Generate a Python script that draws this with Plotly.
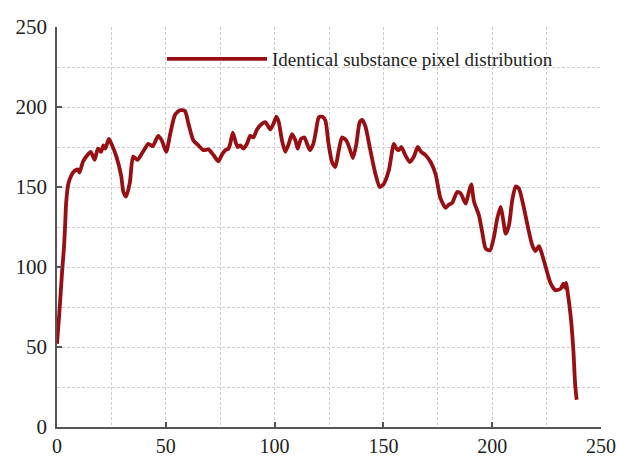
import plotly.graph_objects as go

# pixel position index (x) and pixel value (y)
x_vals = [0, 1, 2, 2.5, 3.2, 3.7, 4.2, 5.2, 6.5, 8, 9.5, 10.3, 12, 14, 15.5, 17.3, 18.8, 20.2,
          21.3, 22.2, 23.8, 25, 27.3, 29.5, 30.5, 31.8, 33.5, 35, 37, 39.5, 42, 44, 46.5, 48.2,
          50.2, 52, 54.2, 56.5, 58.8, 60.4, 62.7, 65, 67.3, 69.6, 71.9, 74.2, 75.7, 77.3, 78.8,
          79.6, 80.8, 81.9, 83, 84.2, 85.7, 87.3, 88.8, 90.3, 91.9, 94.2, 95.7, 96.8, 98, 99.5,
          100.8, 101.9, 103.4, 104.9, 106.5, 108, 109.6, 110.6, 112.1, 113.7, 114.9, 116.2,
          117.8, 119, 120.3, 121.8, 123.3, 124.8, 126.4, 127.9, 129.5, 131, 133, 134.5, 136,
          137.6, 139.1, 140.2, 141.7, 144, 146.3, 148.3, 150.2, 152.5, 154.8, 156, 157.1, 158.2,
          160.1, 162.1, 163.9, 165.8, 167.3, 169.3, 171.7, 174, 176.2, 178.6, 180.1, 181.6,
          183.9, 185.5, 187.8, 189.3, 190.4, 191.6, 193.9, 195.4, 197, 199, 200.8, 202.3, 203.9,
          205, 206.2, 207.7, 209.2, 210.8, 212.3, 214.3, 216.4, 218.4, 219.9, 221.5, 223, 225,
          226.9, 229.2, 231.5, 232.7, 233.5, 234, 234.6, 236.1, 237.3, 238.1, 238.8]
y_vals = [52, 70, 90, 100, 112, 125, 140, 152, 157, 160, 161, 159, 166, 170, 172, 167, 174, 172,
          176, 174, 180, 177, 169, 157, 147, 144, 153, 169, 167, 172, 177, 175.5, 182, 179,
          172, 183, 195, 198, 197.5, 189.6, 179, 176, 173, 173.5, 170, 166, 170, 173, 174,
          177, 184, 179, 175, 176, 174, 177, 182, 181, 186, 189.6, 190.6, 188.5, 186, 189.6,
          194, 190.6, 179, 172, 177, 183, 179, 174, 180, 181, 177, 173,
          177, 185, 193.5, 194, 191.7, 177, 165.6, 162.5, 173, 181, 179, 174, 168,
          177, 190.6, 192, 188, 173, 158.4, 150, 152, 160.4, 177, 174, 173, 175,
          169.8, 165.6, 168.7, 175, 172, 170, 165.6, 158, 143, 137, 139, 140,
          146.9, 146, 139.6, 147, 151.7, 141, 132.3, 121.9, 111.5, 110.4, 118.8, 130.2, 137.5,
          130, 120.8, 126, 141.7, 150.4, 149, 138.6, 125, 113.6, 110, 113, 107.5, 98,
          89.6, 85.4, 86.5, 89.6, 87, 90, 85, 68.8, 48, 27, 17]

series_name = "Identical substance pixel distribution"
x_ticks = [0, 50, 100, 150, 200, 250]
y_ticks = [0, 50, 100, 150, 200, 250]

font_family = "Liberation Serif, Times New Roman, serif"

fig = go.Figure()
fig.add_trace(go.Scatter(
    x=x_vals, y=y_vals, mode="lines", name=series_name,
    line=dict(color="#970f13", width=3.8, shape="spline", smoothing=0.6),
))

axis_common = dict(
    showline=True, linecolor="#555555", linewidth=1.5,
    ticks="inside", ticklen=5, tickwidth=1.5, tickcolor="#555555",
    showgrid=True, gridcolor="#cccccc", gridwidth=1, griddash="3px,2px",
    minor=dict(dtick=25, showgrid=True, gridcolor="#cccccc", griddash="3px,2px", ticks=""),
    zeroline=False, mirror=False, automargin=False,
)

fig.update_xaxes(range=[0, 250], tickvals=x_ticks, ticklabelstandoff=0,
                 tickfont=dict(family=font_family, size=20, color="#222222"), **axis_common)
fig.update_yaxes(range=[0, 250], tickvals=y_ticks, ticklabelstandoff=4,
                 tickfont=dict(family=font_family, size=21, color="#222222"), **axis_common)

fig.update_layout(
    width=618, height=456,
    margin=dict(l=57, r=17, t=27, b=29),
    plot_bgcolor="white", paper_bgcolor="white",
    showlegend=True,
    legend=dict(
        x=0.193, y=0.92, xanchor="left", yanchor="middle",
        bgcolor="rgba(0,0,0,0)", borderwidth=0,
        itemwidth=100,
        font=dict(family=font_family, size=19, color="#222222"),
    ),
)

fig.write_html(
    "out.html",
    config={"displayModeBar": False},
    post_script="document.body.style.margin='0';document.body.style.overflow='hidden';",
)
